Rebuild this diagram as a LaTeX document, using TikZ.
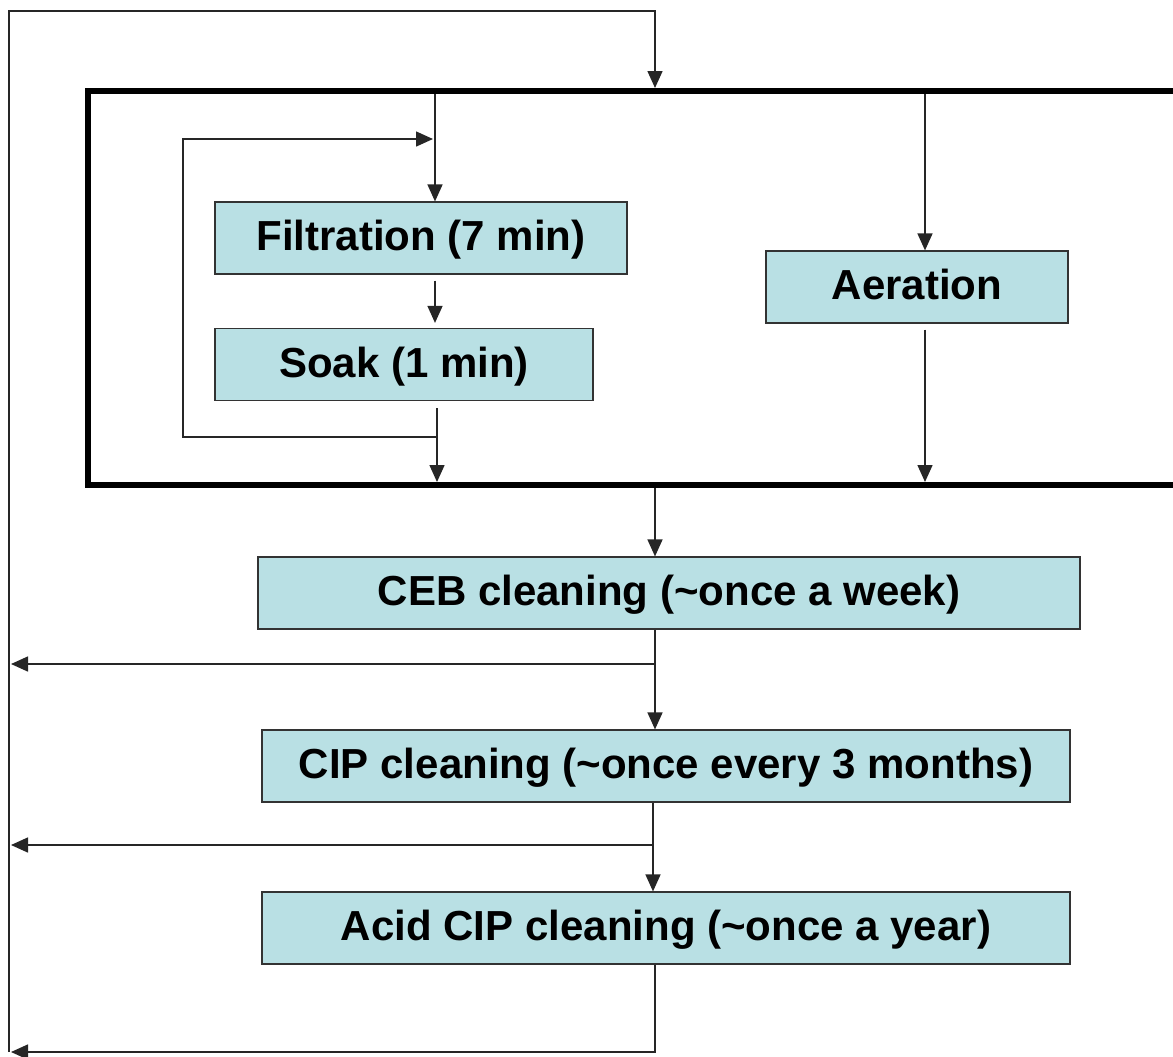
\documentclass[tikz,border=0pt]{standalone}
\usepackage{fontspec}
\setmainfont{Liberation Sans}
\usetikzlibrary{arrows.meta,positioning}
\definecolor{boxcyan}{RGB}{185,224,228}

\tikzset{
  stage/.style={draw=black!80,line width=0.6pt,fill=boxcyan,inner sep=0pt,
    minimum height=36pt,text height=12.5pt,text depth=0pt,
    font=\fontsize{21}{25}\selectfont\bfseries},
  flow/.style={line width=0.75pt,draw=black!85,-{Triangle[length=8.5pt,width=7.5pt]}},
  tank/.style={line width=3pt}
}

\begin{document}
\begin{tikzpicture}[x=0.5pt,y=-0.5pt]
   \useasboundingbox (0,0) rectangle (1173,1056);
   % membrane tank (runs off the right edge)
   \draw[tank] (1190,91) -- (88,91) -- (88,485) -- (1190,485);

   \node[stage,minimum width=206pt] (filt) at (421,238) {Filtration (7 min)};
   \node[stage,minimum width=189pt] (soak) at (404,364.5) {Soak (1 min)};
   \node[stage,minimum width=151pt] (aer) at (917,287) {Aeration};
   \node[stage,minimum width=411pt] (ceb) at (669,593) {CEB cleaning (\textasciitilde once a week)};
   \node[stage,minimum width=404pt] (cip) at (666,766) {CIP cleaning (\textasciitilde once every 3 months)};
   \node[stage,minimum width=404pt] (acid) at (666,928) {Acid CIP cleaning (\textasciitilde once a year)};

   \coordinate (spine) at (655,0);
   \coordinate (filtx) at (435,0);
   \coordinate (soakx) at (437,0);
   \coordinate (aerx) at (925,0);
   \coordinate (tankin) at (655,88);
   \coordinate (tankout) at (655,488);
   \coordinate (tankfloor) at (0,482);
   \coordinate (tankroof) at (0,94);
   \coordinate (lowleft) at (9,1052);
   \coordinate (upleft) at (9,11);

   % inside the tank
   \draw[flow] (filtx |- tankroof) -- (filt.north -| filtx);
   \draw[flow,shorten <=3pt,shorten >=2.5pt] (filt.south -| filtx) -- (soak.north -| filtx);
   \draw[flow,shorten <=3.5pt] (soak.south -| soakx) -- (soakx |- tankfloor);
   \draw[flow] (437,437) -| (183,139) -- (433,139);
   \draw[flow] (aerx |- tankroof) -- (aer.north -| aerx);
   \draw[flow,shorten <=3pt] (aer.south -| aerx) -- (aerx |- tankfloor);

   % cleaning sequence
   \draw[flow] (tankout) -- (ceb.north -| spine);
   \draw[flow] (ceb.south -| spine) -- (cip.north -| spine);
   \draw[flow] (655,664) -- (11,664);
   \draw[flow] (cip.south -| 653,0) -- (acid.north -| 653,0);
   \draw[flow] (653,845) -- (11,845);
   \draw[flow] (acid.south -| spine) |- (11,1052);

   % return to the tank
   \draw[flow] (lowleft) -- (upleft) -| (tankin);
\end{tikzpicture}
\end{document}
